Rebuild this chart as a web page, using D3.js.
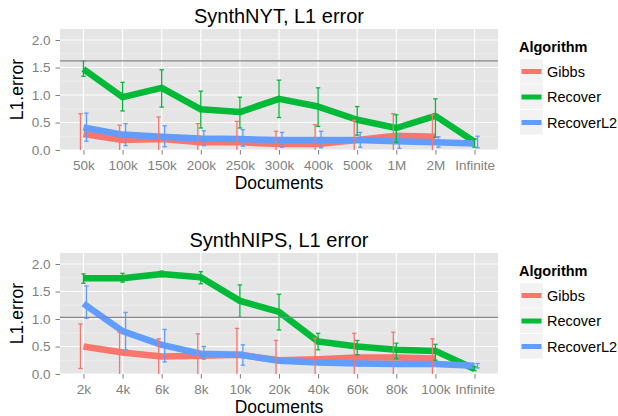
<!DOCTYPE html>
<html>
<head>
<meta charset="utf-8">
<script src="https://cdn.jsdelivr.net/npm/d3@7"></script>
<style>
	body { margin: 0; background: #fff; }
	text { font-family: 'Liberation Sans', Arial, Helvetica, sans-serif; }
</style>
</head>
<body>
<div id="chart"></div>
<script>
'use strict';

// values: [mean, low, high]
var series = ['Gibbs', 'Recover', 'RecoverL2'];
var colors = ['#F8766D', '#00BA38', '#619CFF'];

var nytDocs = ['50k', '100k', '150k', '200k', '250k', '300k', '400k', '500k', '1M', '2M', 'Infinite'];
var nytGibbs = [
	[0.29, -0.1, 0.66], [0.18, -0.1, 0.45], [0.20, -0.1, 0.60], [0.14, -0.1, 0.48],
	[0.14, -0.1, 0.52], [0.11, -0.1, 0.34], [0.11, -0.1, 0.46], [0.18, -0.1, 0.54],
	[0.26, -0.1, 0.66], [0.24, -0.1, 0.64]
];
var nytRecover = [
	[1.47, 1.34, 1.62], [0.96, 0.71, 1.23], [1.13, 0.78, 1.46], [0.74, 0.40, 1.07],
	[0.69, 0.40, 0.96], [0.93, 0.59, 1.27], [0.79, 0.43, 1.13], [0.55, 0.27, 0.79],
	[0.40, 0.14, 0.64], [0.62, 0.23, 0.93], [0.15, 0.05, 0.20]
];
var nytRecoverL2 = [
	[0.41, 0.16, 0.67], [0.28, 0.08, 0.48], [0.24, 0.06, 0.44], [0.21, 0.08, 0.35],
	[0.20, 0.07, 0.37], [0.18, 0.05, 0.32], [0.18, 0.04, 0.34], [0.18, 0.05, 0.32],
	[0.16, 0.03, 0.28], [0.14, 0.05, 0.24], [0.12, 0.04, 0.25]
];
var nytBaseline = 1.62;

var nipsDocs = ['2k', '4k', '6k', '8k', '10k', '20k', '40k', '60k', '80k', '100k', 'Infinite'];
var nipsGibbs = [
	[0.50, 0.10, 0.91], [0.39, -0.1, 0.76], [0.32, -0.1, 0.64], [0.33, -0.1, 0.73],
	[0.35, -0.1, 0.83], [0.25, -0.1, 0.61], [0.27, -0.1, 0.65], [0.30, -0.1, 0.74],
	[0.30, -0.1, 0.76], [0.28, -0.1, 0.64]
];
var nipsRecover = [
	[1.74, 1.65, 1.82], [1.74, 1.67, 1.83], [1.82, 1.77, 1.87], [1.76, 1.64, 1.86],
	[1.33, 1.03, 1.62], [1.13, 0.80, 1.45], [0.59, 0.44, 0.74], [0.50, 0.35, 0.61],
	[0.44, 0.28, 0.56], [0.42, 0.25, 0.54], [0.09, 0.06, 0.13]
];
var nipsRecoverL2 = [
	[1.28, 1.01, 1.60], [0.78, 0.44, 1.12], [0.53, 0.22, 0.81], [0.37, 0.27, 0.50],
	[0.35, 0.16, 0.53], [0.24, 0.20, 0.28], [0.21, 0.17, 0.25], [0.19, 0.15, 0.23],
	[0.18, 0.14, 0.22], [0.18, 0.14, 0.22], [0.15, 0.11, 0.19]
];
var nipsBaseline = 1.03;

var yTicks = [0, 0.5, 1.0, 1.5, 2.0];
var yMinor = [0.25, 0.75, 1.25, 1.75];

var svg = d3.select('#chart')
	.append('svg')
	.attr('width', 618)
	.attr('height', 416);

function drawPanel(top, title, docs, data, baseline, id) {
	var left = 60, width = 438, height = 121;
	var x = d3.scalePoint().domain(docs).range([0, width]).padding(0.6);
	var y = d3.scaleLinear().domain([0, 2.2]).range([height, 0]);

	svg.append('defs').append('clipPath')
		.attr('id', id)
		.append('rect')
		.attr('width', width)
		.attr('height', height);

	var g = svg.append('g')
		.attr('transform', 'translate(' + left + ',' + top + ')');

	g.append('rect')
		.attr('width', width)
		.attr('height', height)
		.style('fill', '#E5E5E5');

	g.selectAll('minor')
		.data(yMinor)
		.enter()
		.append('line')
		.attr('x1', 0).attr('x2', width)
		.attr('y1', function (d) { return y(d); })
		.attr('y2', function (d) { return y(d); })
		.style('stroke', '#F2F2F2')
		.style('stroke-width', 0.6);

	g.selectAll('major')
		.data(yTicks)
		.enter()
		.append('line')
		.attr('x1', 0).attr('x2', width)
		.attr('y1', function (d) { return y(d); })
		.attr('y2', function (d) { return y(d); })
		.style('stroke', '#fff')
		.style('stroke-width', 1.1);

	g.selectAll('vgrid')
		.data(docs)
		.enter()
		.append('line')
		.attr('x1', function (d) { return x(d); })
		.attr('x2', function (d) { return x(d); })
		.attr('y1', 0).attr('y2', height)
		.style('stroke', '#fff')
		.style('stroke-width', 1.1);

	var plot = g.append('g').attr('clip-path', 'url(#' + id + ')');

	var line = d3.line()
		.x(function (d, i) { return x(docs[i]); })
		.y(function (d) { return y(d[0]); });

	data.forEach(function (s, k) {
		plot.append('path')
			.datum(s)
			.attr('d', line)
			.style('fill', 'none')
			.style('stroke', colors[k])
			.style('stroke-width', 6.5)
			.style('stroke-linejoin', 'round');
	});

	var dodge = [-3, 0, 3];
	data.forEach(function (s, k) {
		var bars = plot.selectAll('err' + k)
			.data(s)
			.enter()
			.append('g')
			.style('stroke', colors[k])
			.style('stroke-width', 1.3);
		bars.append('line')
			.attr('x1', function (d, i) { return x(docs[i]) + dodge[k]; })
			.attr('x2', function (d, i) { return x(docs[i]) + dodge[k]; })
			.attr('y1', function (d) { return y(d[1]); })
			.attr('y2', function (d) { return y(d[2]); });
		[1, 2].forEach(function (j) {
			bars.append('line')
				.attr('x1', function (d, i) { return x(docs[i]) + dodge[k] - 2.2; })
				.attr('x2', function (d, i) { return x(docs[i]) + dodge[k] + 2.2; })
				.attr('y1', function (d) { return y(d[j]); })
				.attr('y2', function (d) { return y(d[j]); });
		});
	});

	plot.append('line')
		.attr('x1', 0).attr('x2', width)
		.attr('y1', y(baseline)).attr('y2', y(baseline))
		.style('stroke', '#888')
		.style('stroke-width', 1.2);

	// axes
	var yAxis = g.append('g')
		.call(d3.axisLeft(y).tickValues(yTicks).tickFormat(d3.format('.1f'))
			.tickSize(4.5).tickPadding(5));
	var xAxis = g.append('g')
		.attr('transform', 'translate(0,' + height + ')')
		.call(d3.axisBottom(x).tickSize(4.5).tickPadding(6));
	[xAxis, yAxis].forEach(function (a) {
		a.select('.domain').remove();
		a.selectAll('line').style('stroke', '#7F7F7F');
		a.selectAll('text')
			.style('fill', '#7F7F7F')
			.style('font-size', '13.5px')
			.style('font-family', "'Liberation Sans', Arial, sans-serif");
	});

	svg.append('text')
		.attr('x', left + width / 2)
		.attr('y', top - 6)
		.style('text-anchor', 'middle')
		.style('font-size', '20px')
		.text(title);

	svg.append('text')
		.attr('x', left + width / 2)
		.attr('y', top + height + 38.5)
		.style('text-anchor', 'middle')
		.style('font-size', '17.5px')
		.text('Documents');

	svg.append('text')
		.attr('transform', 'rotate(-90)')
		.attr('x', -(top + height / 2))
		.attr('y', 23)
		.style('text-anchor', 'middle')
		.style('font-size', '17.5px')
		.text('L1.error');

	// legend
	var lg = svg.append('g')
		.attr('transform', 'translate(519,' + (top + 23) + ')');
	lg.append('text')
		.style('font-size', '14.5px')
		.style('font-weight', 'bold')
		.text('Algorithm');
	series.forEach(function (name, k) {
		var row = lg.append('g')
			.attr('transform', 'translate(1,' + (7 + k * 25.5) + ')');
		row.append('rect')
			.attr('width', 23)
			.attr('height', 24.5)
			.style('fill', '#F2F2F2');
		row.append('line')
			.attr('x1', 1.5).attr('x2', 21.5)
			.attr('y1', 12.5).attr('y2', 12.5)
			.style('stroke', colors[k])
			.style('stroke-width', 5);
		row.append('text')
			.attr('x', 27)
			.attr('y', 17.5)
			.style('font-size', '14.5px')
			.text(name);
	});
}

drawPanel(29, 'SynthNYT, L1 error', nytDocs,
	[nytGibbs, nytRecover, nytRecoverL2], nytBaseline, 'clipTop');
drawPanel(253, 'SynthNIPS, L1 error', nipsDocs,
	[nipsGibbs, nipsRecover, nipsRecoverL2], nipsBaseline, 'clipBottom');
</script>
</body>
</html>
